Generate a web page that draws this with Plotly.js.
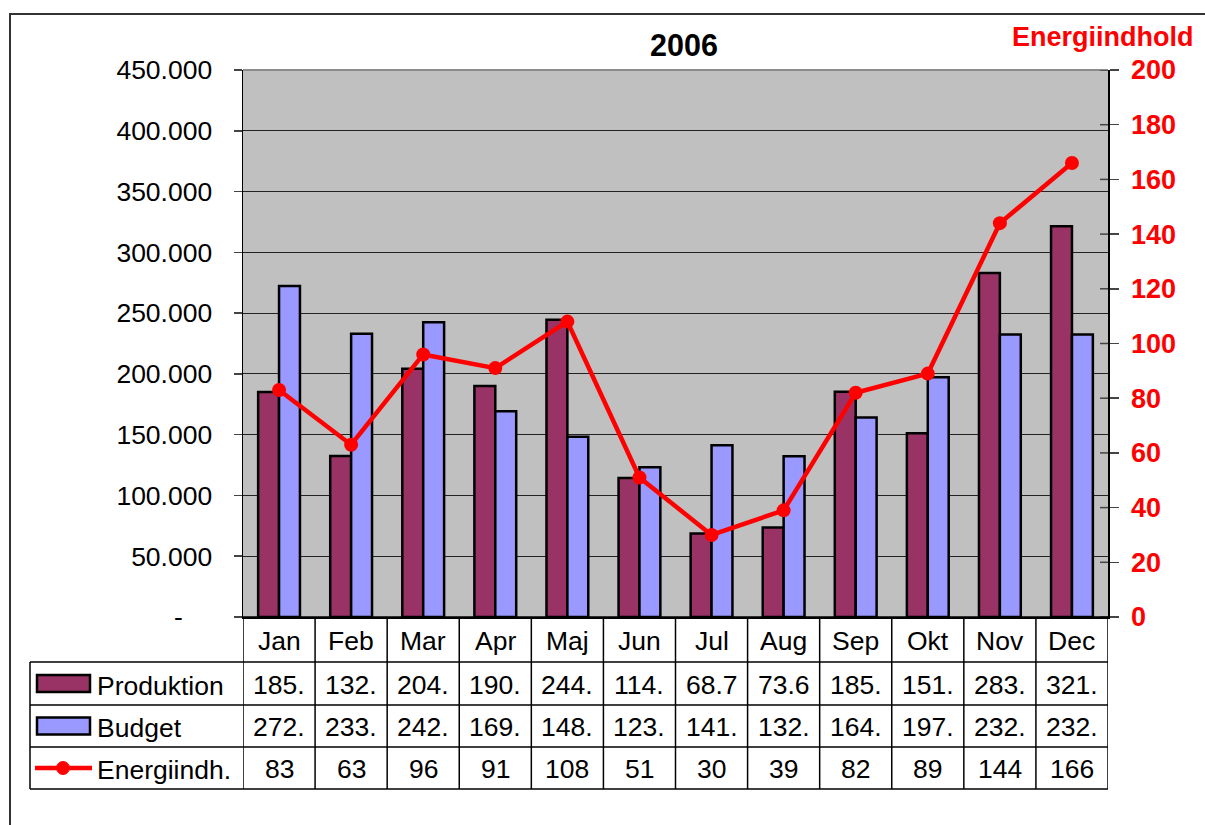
<!DOCTYPE html>
<html>
<head>
<meta charset="utf-8">
<script src="https://cdn.plot.ly/plotly-3.0.1.min.js"></script>
<style>html,body{margin:0;padding:0;background:#fff;}#chart{width:1205px;height:825px;}</style>
</head>
<body>
<div id="chart"></div>
<script>
const months = ['Jan','Feb','Mar','Apr','Maj','Jun','Jul','Aug','Sep','Okt','Nov','Dec'];
const produktion = [185200, 132400, 204300, 190100, 244500, 114300, 68700, 73600, 185300, 151200, 283100, 321400];
const budget = [272300, 233100, 242400, 169200, 148300, 123100, 141200, 132300, 164100, 197200, 232400, 232400];
const energi = [83, 63, 96, 91, 108, 51, 30, 39, 82, 89, 144, 166];
const leftTicks = [0, 50000, 100000, 150000, 200000, 250000, 300000, 350000, 400000, 450000];
const rightTicks = [0, 20, 40, 60, 80, 100, 120, 140, 160, 180, 200];
const seriesNames = ['Produktion', 'Budget', 'Energiindh.'];

function dk(v) { return Math.round(v).toString().replace(/\B(?=(\d{3})+(?!\d))/g, '.'); }
const NB = '\u00a0';
const leftText = leftTicks.map(v => v === 0 ? '-' + NB + NB + NB + NB : dk(v));

const L = 243, R = 1108, T = 70, B = 617;
const px2x = p => (p - L) / (R - L);
const px2y = p => (B - p) / (B - T);
const rows = [617, 662, 705, 747, 789];
const tableLeft = 30;
const FONT = 'Liberation Sans, Arial, sans-serif';
const FS = 26.5;
const lineCol = '#000';

const cPro = '#993366', cBud = '#9999FF', cRed = '#FF0000';

const traces = [
  {type:'bar', name:'Produktion', x: months, y: produktion, marker:{color:cPro, line:{color:'#000', width:2.5}}, hoverinfo:'skip'},
  {type:'bar', name:'Budget', x: months, y: budget, marker:{color:cBud, line:{color:'#000', width:2.5}}, hoverinfo:'skip'},
  {type:'scatter', mode:'lines+markers', name:'Energiindh.', x: months, y: energi, yaxis:'y2',
   line:{color:cRed, width:4.5}, marker:{color:cRed, size:14}, hoverinfo:'skip'}
];

const shapes = [];
const annotations = [];
// outer border
shapes.push({type:'rect', xref:'paper', yref:'paper', x0:px2x(10), x1:px2x(1215), y0:px2y(835), y1:px2y(14), line:{color:'#333', width:2}, layer:'below'});
// top plot border (gray)
shapes.push({type:'line', xref:'paper', yref:'paper', x0:0, x1:1, y0:1, y1:1, line:{color:'#8c8c8c', width:2}});
// right axis cross ticks
rightTicks.forEach(v => {
  shapes.push({type:'line', xref:'paper', yref:'y2', x0:px2x(1100), x1:1, y0:v, y1:v, line:{color:'#444', width:1.5}});
});
// table horizontal lines
rows.forEach((r, i) => {
  shapes.push({type:'line', xref:'paper', yref:'paper', x0: i === 0 ? 0 : px2x(tableLeft), x1:1, y0:px2y(r), y1:px2y(r), line:{color:lineCol, width:1.5}});
});
// table vertical lines
for (let i = 0; i <= months.length; i++) {
  shapes.push({type:'line', xref:'x', yref:'paper', x0:i - 0.5, x1:i - 0.5, y0:px2y(rows[0]), y1:px2y(rows[4]), line:{color:lineCol, width:1.5}});
}
shapes.push({type:'line', xref:'paper', yref:'paper', x0:px2x(tableLeft), x1:px2x(tableLeft), y0:px2y(rows[1]), y1:px2y(rows[4]), line:{color:lineCol, width:1.5}});

// month headers
months.forEach((m, i) => {
  annotations.push({xref:'x', yref:'paper', x:i, y:px2y((rows[0] + rows[1]) / 2 + 1), text:m, showarrow:false, font:{family:FONT, size:FS, color:'#000'}, xanchor:'center', yanchor:'middle'});
});
// values
const tableSeries = [produktion.map(v => dk(v).slice(0, 4)), budget.map(v => dk(v).slice(0, 4)), energi.map(v => dk(v))];
tableSeries.forEach((arr, r) => {
  const yc = (rows[r + 1] + rows[r + 2]) / 2 + 1;
  arr.forEach((t, i) => {
    annotations.push({xref:'x', yref:'paper', x:i, y:px2y(yc), text:t, showarrow:false, font:{family:FONT, size:FS, color:'#000'}, xanchor:'center', yanchor:'middle'});
  });
  annotations.push({xref:'paper', yref:'paper', x:px2x(95), y:px2y(yc + 1), text:seriesNames[r], showarrow:false, font:{family:FONT, size:FS, color:'#000'}, xanchor:'left', yanchor:'middle'});
});
// legend keys
[[cPro, 0], [cBud, 1]].forEach(([c, r]) => {
  const yc = (rows[r + 1] + rows[r + 2]) / 2;
  shapes.push({type:'rect', xref:'paper', yref:'paper', x0:px2x(37), x1:px2x(90), y0:px2y(yc - 8.5), y1:px2y(yc + 8.5), fillcolor:c, line:{color:'#000', width:2.5}});
});
{
  const yc = (rows[3] + rows[4]) / 2;
  shapes.push({type:'line', xref:'paper', yref:'paper', x0:px2x(35), x1:px2x(92), y0:px2y(yc), y1:px2y(yc), line:{color:cRed, width:4.5}});
  shapes.push({type:'circle', xref:'paper', yref:'paper', x0:px2x(56.5), x1:px2x(69.5), y0:px2y(yc + 6.5), y1:px2y(yc - 6.5), fillcolor:cRed, line:{color:cRed, width:1}});
}
// right axis title
annotations.push({xref:'paper', yref:'paper', x:px2x(1103), y:px2y(37), text:'Energiindhold', showarrow:false, font:{family:FONT, size:27, color:cRed, weight:'bold'}, xanchor:'center', yanchor:'middle'});

const layout = {
  width:1205, height:825,
  margin:{l:L, r:1205 - R, t:T, b:825 - B, pad:0},
  paper_bgcolor:'#fff', plot_bgcolor:'#C0C0C0',
  showlegend:false,
  barmode:'group', bargap:0.42, bargroupgap:0,
  title:{text:'<b>2006</b>', x:px2x(684), xref:'paper', xanchor:'center', y:1 - 45/825, yref:'container', yanchor:'middle', font:{family:FONT, size:30.5, color:'#000'}},
  font:{family:FONT},
  xaxis:{type:'category', range:[-0.5, months.length - 0.5], showticklabels:false, ticks:'', showgrid:false, showline:true, linecolor:'#000', linewidth:1.5, zeroline:false, fixedrange:true},
  yaxis:{range:[0, 450000], tickvals:leftTicks, ticktext:leftText, ticks:'outside', ticklen:8, tickwidth:1.5, tickcolor:'#444',
         showgrid:true, gridcolor:'#222', gridwidth:1, showline:true, linecolor:'#000', linewidth:1.5, zeroline:false,
         tickfont:{family:FONT, size:FS, color:'#000'}, ticklabelstandoff:16, fixedrange:true},
  yaxis2:{range:[0, 200], overlaying:'y', side:'right', tickvals:rightTicks, ticks:'outside', ticklen:9, tickwidth:1.5, tickcolor:'#444',
          showgrid:false, showline:true, linecolor:'#000', linewidth:1.5, zeroline:false,
          tickfont:{family:FONT, size:27, color:cRed, weight:'bold'}, ticklabelstandoff:7, fixedrange:true},
  shapes:shapes, annotations:annotations
};
Plotly.newPlot('chart', traces, layout, {displayModeBar:false, staticPlot:true});
</script>
</body>
</html>
